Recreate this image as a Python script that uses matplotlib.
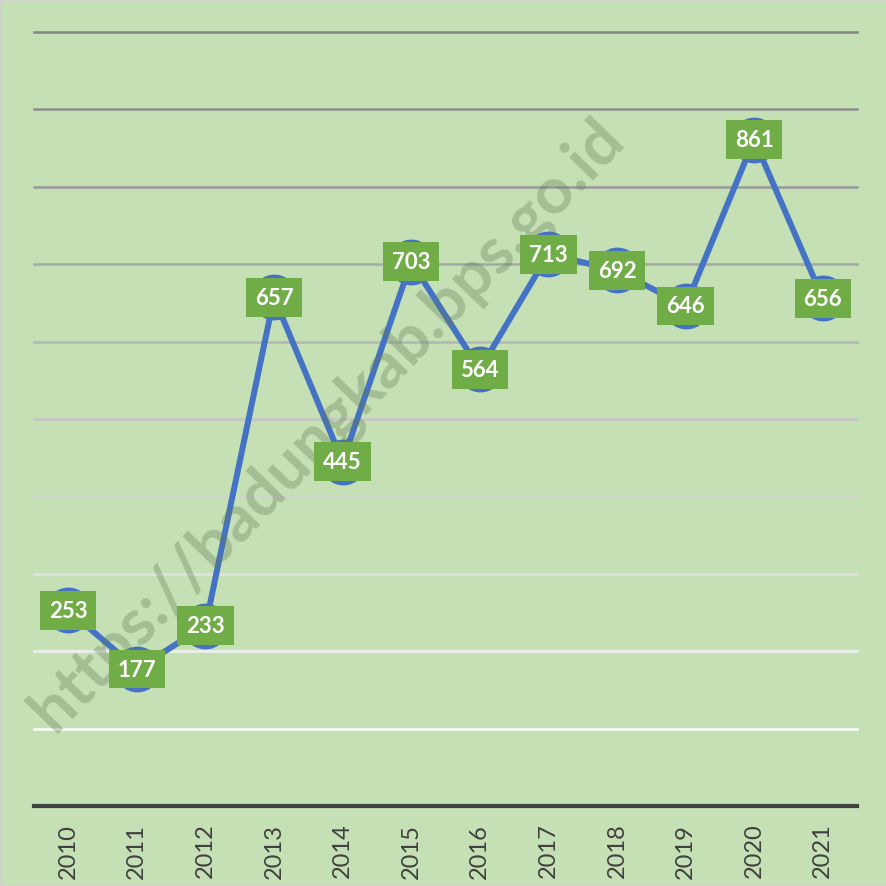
import matplotlib
matplotlib.use("Agg")
import matplotlib.pyplot as plt

years = ["2010", "2011", "2012", "2013", "2014", "2015",
         "2016", "2017", "2018", "2019", "2020", "2021"]
values = [253, 177, 233, 657, 445, 703, 564, 713, 692, 646, 861, 656]

grid_vals = [100, 200, 300, 400, 500, 600, 700, 800, 900, 1000]
grid_cols = ["#ffffff", "#f0f0f0", "#e2e2e2", "#d2d2d2", "#c4c4c4",
             "#b5b5b5", "#a6a6a6", "#999999", "#8d8d8d", "#848484"]

bg = "#c5e0b4"

fig = plt.figure(figsize=(8.87, 8.87), dpi=100, facecolor=bg)
fig.patches.append(plt.Rectangle((0, 0), 1, 1, transform=fig.transFigure,
                                 fill=False, edgecolor="#d0d0d0", lw=2))
ax = fig.add_axes([34/887, 80/887, 823/887, 774/887])
ax.set_facecolor(bg)

x = list(range(len(years)))
ax.set_xlim(-0.5, len(years) - 0.5)
ax.set_ylim(0, 1000)

for v, c in zip(grid_vals, grid_cols):
    ax.axhline(v, color=c, lw=1.8, zorder=1, clip_on=False)

ax.plot(x, values, color="#4472c4", lw=4.3, marker="o", markersize=32,
        zorder=3, solid_joinstyle="round")

ax.text(0.37, 0.52, "https://badungkab.bps.go.id", transform=fig.transFigure,
        rotation=46, ha="center", va="center", fontsize=47,
        fontweight="bold", family="Lato", color="#5f7a52", alpha=0.33,
        zorder=4)

for xi, v in zip(x, values):
    ax.text(xi, v, str(v), ha="center", va="center", fontsize=16,
            fontweight="bold", family="Lato", color="white", zorder=5,
            bbox=dict(boxstyle="square,pad=0.4", fc="#70ad47", ec="none"))

for s in ["top", "left", "right"]:
    ax.spines[s].set_visible(False)
ax.spines["bottom"].set_color("#404040")
ax.spines["bottom"].set_linewidth(3)
ax.set_yticks([])
ax.set_xticks(x)
ax.set_xticklabels(years, rotation=90, fontsize=17, family="Lato",
                   color="#404040")
ax.tick_params(axis="x", length=0, pad=12)

fig.savefig("out.png", dpi=100, facecolor=bg)
